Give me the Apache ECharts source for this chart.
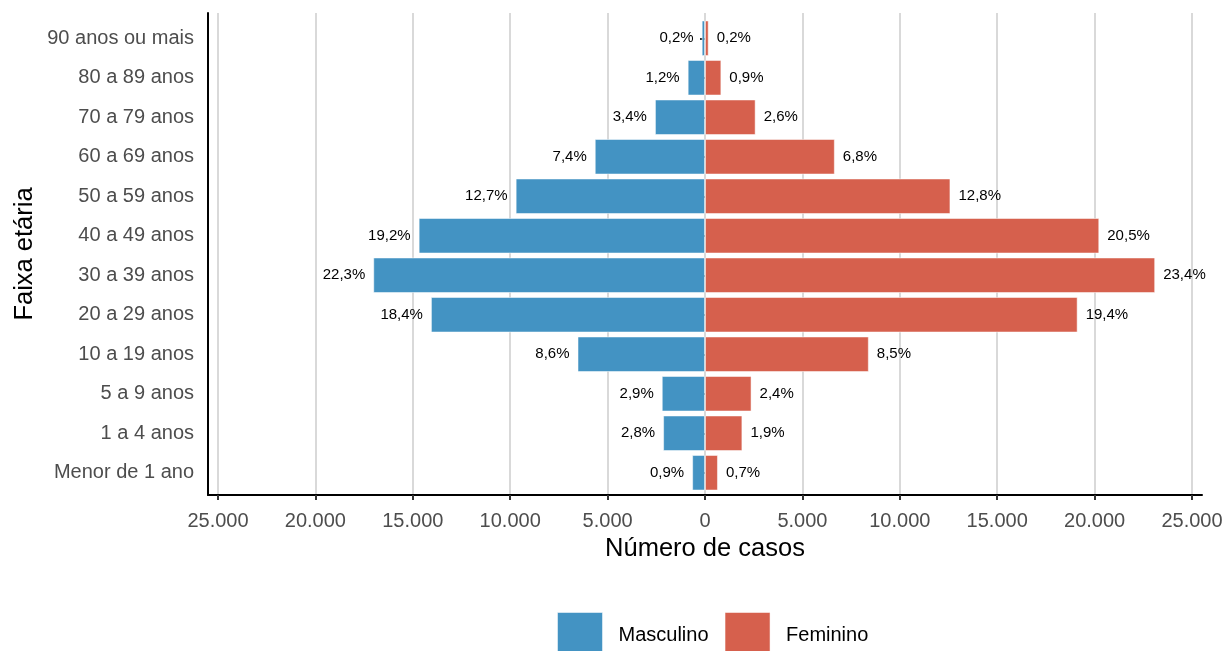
<!DOCTYPE html>
<html>
<head>
<meta charset="utf-8">
<script src="https://cdn.jsdelivr.net/npm/echarts@6/dist/echarts.min.js"></script>
<style>html,body{margin:0;padding:0;background:#fff;}#c{width:1228px;height:651px;}</style>
</head>
<body>
<div id="c"></div>
<script>
// Categories (bottom to top)
const categories = ["Menor de 1 ano","1 a 4 anos","5 a 9 anos","10 a 19 anos","20 a 29 anos","30 a 39 anos","40 a 49 anos","50 a 59 anos","60 a 69 anos","70 a 79 anos","80 a 89 anos","90 anos ou mais"];
// Número de casos
const masculino = [660, 2150, 2220, 6545, 14070, 17030, 14700, 9720, 5660, 2570, 890, 170];
const feminino  = [665, 1920, 2390, 8410, 19130, 23110, 20240, 12600, 6665, 2600, 840, 190];
// Percent labels
const masculinoPct = ["0,9%","2,8%","2,9%","8,6%","18,4%","22,3%","19,2%","12,7%","7,4%","3,4%","1,2%","0,2%"];
const femininoPct  = ["0,7%","1,9%","2,4%","8,5%","19,4%","23,4%","20,5%","12,8%","6,8%","2,6%","0,9%","0,2%"];
const xTicks = [-25000, 25000, 5000];

const FONT = "'Liberation Sans', Arial, sans-serif";
const BLUE = '#4393C3', RED = '#D6604D';

function fmt(v){
  const s = String(Math.abs(Math.round(v)));
  return s.replace(/\B(?=(\d{3})+(?!\d))/g, '.');
}

const chart = echarts.init(document.getElementById('c'));
chart.setOption({
  animation: false,
  backgroundColor: '#fff',
  textStyle: {fontFamily: FONT},
  grid: [
    {left: 218, width: 974, top: 13, height: 482},   // gridlines / x labels
    {left: 218, width: 974, top: 18.5, height: 474}, // data
    {left: 208, width: 994, top: 13, height: 482}    // axis lines
  ],
  xAxis: [
    {gridIndex: 0, type: 'value', min: xTicks[0], max: xTicks[1], interval: xTicks[2],
     axisLine: {show: false},
     axisTick: {show: true, length: 5, lineStyle: {color: '#333', width: 2}},
     axisLabel: {formatter: fmt, color: '#4D4D4D', fontSize: 20, margin: 16, fontFamily: FONT},
     splitLine: {show: true, lineStyle: {color: '#D9D9D9', width: 2}},
     name: 'Número de casos', nameLocation: 'middle', nameGap: 39,
     nameTextStyle: {color: '#000', fontSize: 25.5, fontFamily: FONT}},
    {gridIndex: 1, type: 'value', min: xTicks[0], max: xTicks[1], show: false},
    {gridIndex: 2, type: 'value', min: 0, max: 1,
     axisLine: {show: true, lineStyle: {color: '#000', width: 2}},
     axisTick: {show: false}, axisLabel: {show: false}, splitLine: {show: false}}
  ],
  yAxis: [
    {gridIndex: 0, type: 'value', show: false},
    {gridIndex: 1, type: 'category', data: categories, offset: 10,
     axisLine: {show: false},
     axisTick: {show: true, length: 5, alignWithLabel: true, lineStyle: {color: '#333', width: 2}},
     axisLabel: {color: '#4D4D4D', fontSize: 20, margin: 14, fontFamily: FONT},
     splitLine: {show: false}},
    {gridIndex: 2, type: 'value', min: 0, max: 1,
     axisLine: {show: true, lineStyle: {color: '#000', width: 2}},
     axisTick: {show: false}, axisLabel: {show: false}, splitLine: {show: false},
     name: 'Faixa etária', nameLocation: 'middle', nameGap: 170, nameRotate: 90,
     nameTextStyle: {color: '#000', fontSize: 25.5, fontFamily: FONT}}
  ],
  legend: {
    top: 612, left: 557, itemWidth: 45, itemHeight: 45, itemGap: 16,
    icon: 'rect', padding: 0,
    itemStyle: {borderColor: 'rgba(255,255,255,0.5)', borderWidth: 1},
    textStyle: {fontSize: 20, color: '#000', fontFamily: FONT, padding: [0,0,0,11]},
    data: ['Masculino', 'Feminino']
  },
  series: [
    {name: 'Masculino', type: 'bar', xAxisIndex: 1, yAxisIndex: 1,
     data: masculino.map(v => -v), barWidth: '90%', barGap: '-100%',
     itemStyle: {color: BLUE, borderColor: 'rgba(255,255,255,0.5)', borderWidth: 1},
     label: {show: true, position: 'left', distance: 8, fontSize: 15, color: '#000', fontFamily: FONT,
             formatter: p => masculinoPct[p.dataIndex]}},
    {name: 'Feminino', type: 'bar', xAxisIndex: 1, yAxisIndex: 1,
     data: feminino, barWidth: '90%', barGap: '-100%',
     itemStyle: {color: RED, borderColor: 'rgba(255,255,255,0.5)', borderWidth: 1},
     label: {show: true, position: 'right', distance: 8, fontSize: 15, color: '#000', fontFamily: FONT,
             formatter: p => femininoPct[p.dataIndex]}}
  ]
});
</script>
</body>
</html>
